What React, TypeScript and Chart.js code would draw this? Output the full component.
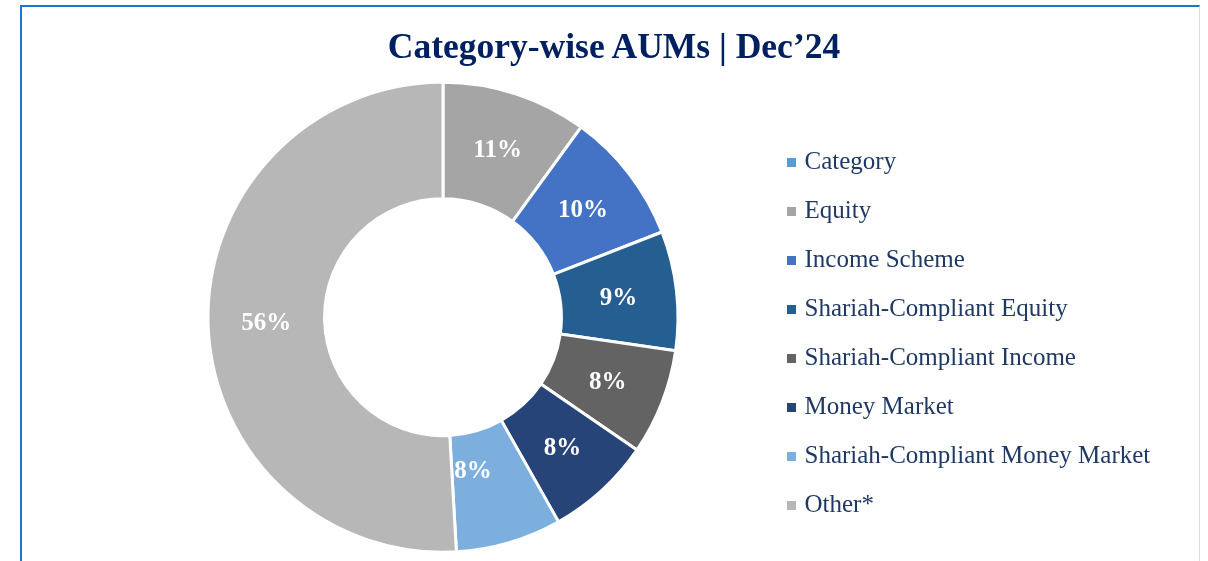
import React, { useEffect, useRef } from "react";
import { Chart, registerables } from "chart.js";

Chart.register(...registerables);

const categories = [
  "Category",
  "Equity",
  "Income Scheme",
  "Shariah-Compliant Equity",
  "Shariah-Compliant Income",
  "Money Market",
  "Shariah-Compliant Money Market",
  "Other*",
];
const shares = [0, 11, 10, 9, 8, 8, 8, 56];
const sliceColors = [
  "#5b9bd5",
  "#a5a5a5",
  "#4472c4",
  "#255e91",
  "#636363",
  "#264478",
  "#7cafdd",
  "#b7b7b7",
];
// label anchor inside each slice: fraction along the angle, fraction across the ring
const labelAngleFrac = [0.5, 0.5, 0.5, 0.5, 0.5, 0.5, 0.7, 0.5];
const labelRingFrac = [0.5, 0.5, 0.5, 0.5, 0.5, 0.5, 0.32, 0.5];
const titleText = "Category-wise AUMs | Dec\u201924";

const CANVAS_W = 1187;
const CANVAS_H = 561;
const LEGEND_FONT = 25;
const LEGEND_PAD = 24;
const LEGEND_LEFT = 746; // canvas px where legend block starts
const CENTER_X = 422;

const sliceLabels = {
  id: "sliceLabels",
  afterDatasetsDraw(chart: any) {
    const ctx = chart.ctx;
    const meta = chart.getDatasetMeta(0);
    ctx.save();
    ctx.font = "bold 25px 'Liberation Serif'";
    ctx.fillStyle = "#ffffff";
    ctx.textAlign = "center";
    ctx.textBaseline = "middle";
    meta.data.forEach((arc: any, i: number) => {
      const v = shares[i];
      if (!v) return;
      const { x, y, startAngle, endAngle, innerRadius, outerRadius } = arc.getProps(
        ["x", "y", "startAngle", "endAngle", "innerRadius", "outerRadius"],
        false
      );
      const a = startAngle + labelAngleFrac[i] * (endAngle - startAngle);
      const r = innerRadius + labelRingFrac[i] * (outerRadius - innerRadius);
      ctx.fillText(v + "%", x + Math.cos(a) * r, y + Math.sin(a) * r + 1);
    });
    ctx.restore();
  },
};

export default function App() {
  const ref = useRef<HTMLCanvasElement | null>(null);

  useEffect(() => {
    const canvas = ref.current;
    if (!canvas) return;
    const mctx = document.createElement("canvas").getContext("2d")!;
    mctx.font = `${LEGEND_FONT}px 'Liberation Serif'`;
    let maxW = 0;
    categories.forEach((c) => {
      maxW = Math.max(maxW, mctx.measureText(c).width);
    });
    const legendW = LEGEND_PAD + 1 + LEGEND_FONT / 2 + maxW + 10;
    const padRight = Math.max(0, CANVAS_W - LEGEND_LEFT - legendW);
    const padLeft = 2 * CENTER_X - LEGEND_LEFT;

    const defaultGen = (Chart as any).overrides.doughnut.plugins.legend.labels.generateLabels;

    const chart = new Chart(canvas, {
      type: "doughnut",
      data: {
        labels: categories,
        datasets: [
          {
            data: shares,
            backgroundColor: sliceColors,
            borderColor: "#ffffff",
            borderWidth: 3,
          },
        ],
      },
      options: {
        animation: false,
        responsive: false,
        maintainAspectRatio: false,
        radius: 235,
        cutout: "50.4%",
        layout: { padding: { left: padLeft, right: padRight, top: 92.5, bottom: 19 } },
        plugins: {
          title: { display: false },
          legend: {
            position: "right",
            align: "end",
            fullSize: false,
            labels: {
              color: "#1f3864",
              font: { family: "'Liberation Serif'", size: LEGEND_FONT },
              usePointStyle: true,
              pointStyle: "rect",
              boxWidth: 1,
              boxHeight: 9,
              padding: LEGEND_PAD,
              generateLabels: (chart: any) =>
                defaultGen(chart).map((l: any) => ({ ...l, lineWidth: 0 })),
            },
          },
          tooltip: { enabled: false },
        },
      } as any,
      plugins: [sliceLabels],
    });
    return () => chart.destroy();
  }, []);

  return (
    <div
      style={{
        position: "absolute",
        left: 0,
        top: 0,
        width: 1208,
        height: 561,
        overflow: "hidden",
        background: "#ffffff",
      }}
    >
      <div
        style={{
          position: "absolute",
          left: 20,
          top: 5,
          width: 1180,
          height: 700,
          borderTop: "2px solid #1a78d4",
          borderLeft: "2px solid #1a78d4",
          borderRight: "1px solid #dcdcdc",
          boxSizing: "border-box",
        }}
      />
      <canvas
        ref={ref}
        width={CANVAS_W}
        height={CANVAS_H}
        style={{ position: "absolute", left: 21, top: 0, width: CANVAS_W, height: CANVAS_H }}
      />
      <div
        style={{
          position: "absolute",
          left: 0,
          top: 26,
          width: 1228,
          textAlign: "center",
          fontFamily: "'Liberation Serif'",
          fontWeight: "bold",
          fontSize: 35.5,
          lineHeight: "40px",
          color: "#002060",
          whiteSpace: "nowrap",
        }}
      >
        {titleText}
      </div>
    </div>
  );
}
